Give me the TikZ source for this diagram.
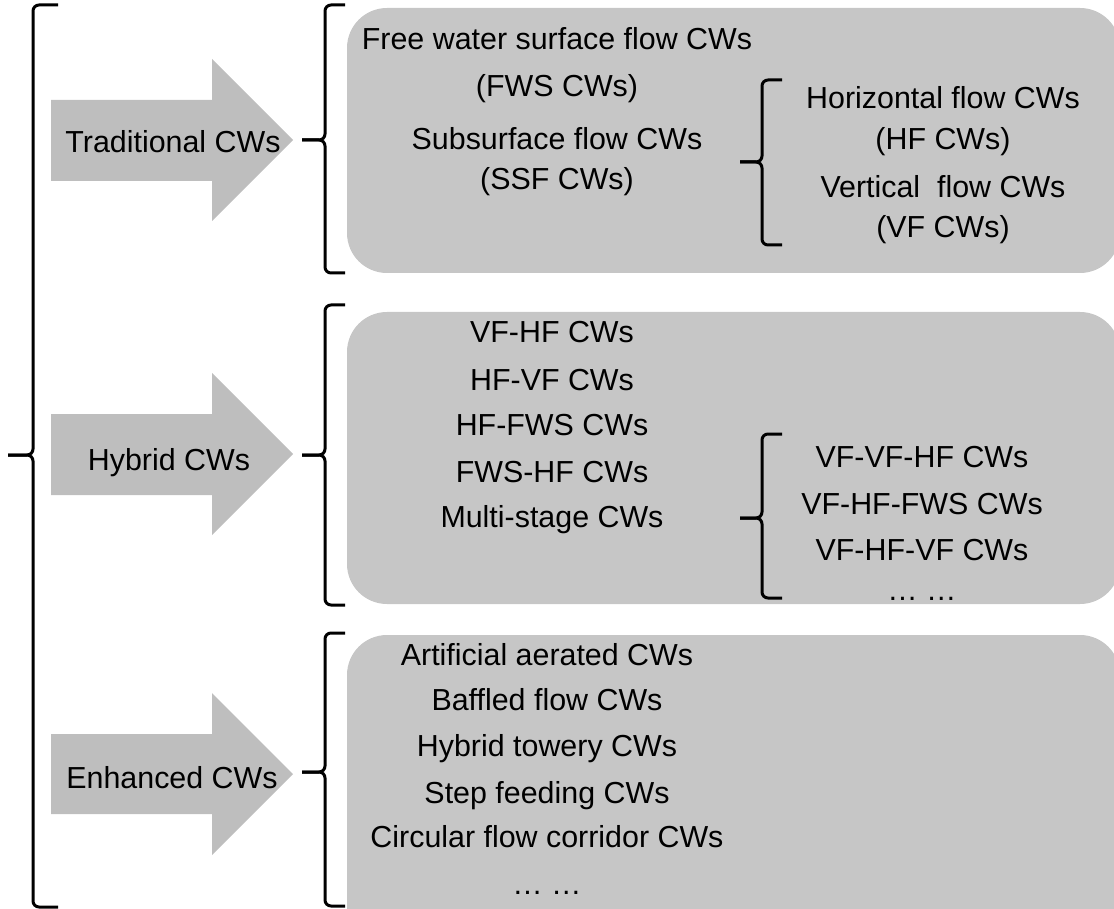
\documentclass[tikz,border=0pt]{standalone}
\usepackage{fontspec}
\setmainfont{Liberation Sans}
\definecolor{arrowgray}{RGB}{190,190,190}
\definecolor{boxgray}{RGB}{198,198,198}

\begin{document}
\begin{tikzpicture}[x=0.5pt,y=-0.5pt,
		txt/.style={anchor=base,inner sep=0pt,font=\fontsize{15.2}{18}\selectfont},
		brace/.style={line width=1.5pt,rounded corners=3pt},
		panel/.style={fill=boxgray,rounded corners=20pt},
		bigarrow/.style={fill=arrowgray}]
			\clip (0,0) rectangle (1114,909);
			% grey panels
			\fill[panel] (347,8) rectangle (1120,273);
			\fill[panel] (347,312) rectangle (1120,604);
			\fill[panel] (347,635) rectangle (1120,960);
			
			% big arrows
			\fill[bigarrow] (51,100) -- (212,100) -- (212,59) -- (293,140) -- (212,221) -- (212,181) -- (51,181) -- cycle;
			\fill[bigarrow] (51,414) -- (212,414) -- (212,373) -- (293,454) -- (212,535) -- (212,495) -- (51,495) -- cycle;
			\fill[bigarrow] (51,734) -- (212,734) -- (212,693) -- (293,774) -- (212,855) -- (212,814) -- (51,814) -- cycle;
			\node[txt] (AT) at (173,153) {Traditional CWs};
			\node[txt] (AH) at (169,470) {Hybrid CWs};
			\node[txt] (AE) at (172,788) {Enhanced CWs};
			
			% braces
			\draw[brace] (58,5) -- (33,5) -- (33,455) -- (8,455);
			\draw[brace] (8,455) -- (33,455) -- (33,907) -- (58,907);
			\draw[brace] (345,5) -- (325,5) -- (325,140) -- (302,140);
			\draw[brace] (302,140) -- (325,140) -- (325,273) -- (345,273);
			\draw[brace] (345,305) -- (325,305) -- (325,455) -- (302,455);
			\draw[brace] (302,455) -- (325,455) -- (325,605) -- (345,605);
			\draw[brace] (345,633) -- (325,633) -- (325,772) -- (302,772);
			\draw[brace] (302,772) -- (325,772) -- (325,906) -- (345,906);
			\draw[brace] (782,80) -- (762,80) -- (762,162) -- (740,162);
			\draw[brace] (740,162) -- (762,162) -- (762,245) -- (782,245);
			\draw[brace] (782,434) -- (762,434) -- (762,518) -- (740,518);
			\draw[brace] (740,518) -- (762,518) -- (762,598) -- (782,598);
			
			% traditional
			\node[txt] (TA) at (557,50) {Free water surface flow CWs};
			\node[txt] (TB) at (557,97) {(FWS CWs)};
			\node[txt] (TC) at (557,150) {Subsurface flow CWs};
			\node[txt] (TD) at (557,190) {(SSF CWs)};
			\node[txt] (TE) at (943,109) {Horizontal flow CWs};
			\node[txt] (TF) at (943,150) {(HF CWs)};
			\node[txt] (TG) at (943,198) {Vertical\ \ flow CWs};
			\node[txt] (TH) at (943,238) {(VF CWs)};
			
			% hybrid
			\node[txt] (HA) at (552,343) {VF-HF CWs};
			\node[txt] (HB) at (552,390) {HF-VF CWs};
			\node[txt] (HC) at (552,435) {HF-FWS CWs};
			\node[txt] (HD) at (552,482) {FWS-HF CWs};
			\node[txt] (HE) at (552,527) {Multi-stage CWs};
			\node[txt] (HF) at (922,467) {VF-VF-HF CWs};
			\node[txt] (HG) at (922,514) {VF-HF-FWS CWs};
			\node[txt] (HH) at (922,560) {VF-HF-VF CWs};
			\node[txt] (HI) at (922,600) {… …};
			
			% enhanced
			\node[txt] (EA) at (547,665) {Artificial aerated CWs};
			\node[txt] (EB) at (547,710) {Baffled flow CWs};
			\node[txt] (EC) at (547,756) {Hybrid towery CWs};
			\node[txt] (ED) at (547,803) {Step feeding CWs};
			\node[txt] (EE) at (547,847) {Circular flow corridor CWs};
			\node[txt] (EF) at (547,894) {… …};
\end{tikzpicture}
\end{document}
